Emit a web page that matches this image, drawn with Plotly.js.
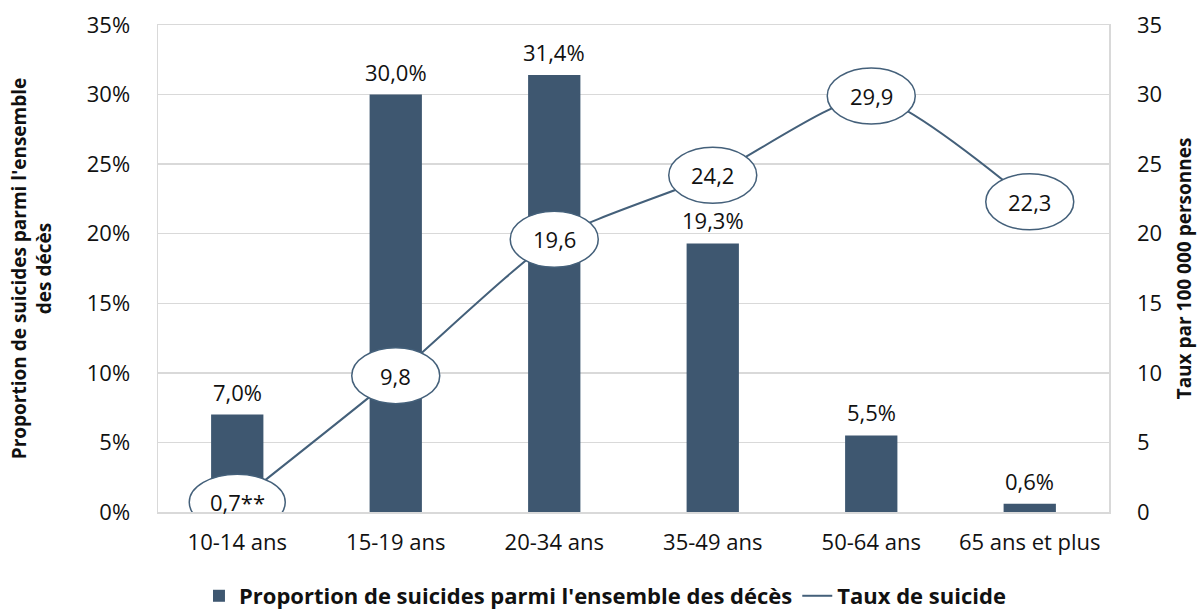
<!DOCTYPE html>
<html>
<head>
<meta charset="utf-8">
<script src="https://cdn.plot.ly/plotly-3.0.1.min.js"></script>
<style>
  html, body { margin: 0; padding: 0; background: #fff; }
  #chart { width: 1199px; height: 610px; }
</style>
</head>
<body>
<div id="chart"></div>
<script>
// age groups and values
var ageGroups = ['10-14 ans', '15-19 ans', '20-34 ans', '35-49 ans', '50-64 ans', '65 ans et plus'];
var proportion = [7.0, 30.0, 31.4, 19.3, 5.5, 0.6];     // % of all deaths
var taux = [0.7, 9.8, 19.6, 24.2, 29.9, 22.3];          // per 100 000
var tauxNote = ['**', '', '', '', '', ''];

var navy = '#3e5770';
var lineColor = '#44607a';

var barTrace = {
    x: ageGroups,
    y: proportion,
    type: 'bar',
    name: "Proportion de suicides parmi l'ensemble des décès",
    marker: {color: navy},
    width: 0.33,
    hoverinfo: 'none'
};

var lineTrace = {
    x: ageGroups,
    y: taux,
    type: 'scatter',
    mode: 'lines',
    name: 'Taux de suicide',
    yaxis: 'y2',
    line: {color: lineColor, width: 2, shape: 'spline', smoothing: 0.6},
    hoverinfo: 'none'
};

var fmt = function (v) { return v.toFixed(1).replace('.', ','); };

var shapes = [];
var annotations = [];

// bar value labels, a bit above each bar
for (var j = 0; j < ageGroups.length; j++) {
    annotations.push({
        xref: 'x', yref: 'y',
        x: ageGroups[j], y: proportion[j],
        yanchor: 'bottom',
        yshift: 6,
        text: fmt(proportion[j]) + '%',
        showarrow: false,
        font: {size: 22, color: '#111'}
    });
}

// white ellipses with the rate value, anchored on each data point
for (var i = 0; i < ageGroups.length; i++) {
    var w = tauxNote[i] ? 96 : 88;
    shapes.push({
        type: 'circle',
        xref: 'x', yref: 'y2',
        xsizemode: 'pixel', ysizemode: 'pixel',
        xanchor: ageGroups[i], yanchor: taux[i],
        x0: -w / 2, x1: w / 2, y0: -28, y1: 28,
        fillcolor: '#fff',
        line: {color: lineColor, width: 1.5},
        layer: 'above'
    });
    annotations.push({
        xref: 'x', yref: 'y2',
        x: ageGroups[i], y: taux[i],
        text: fmt(taux[i]) + tauxNote[i],
        showarrow: false,
        font: {size: 22, color: '#111'}
    });
}

var layout = {
    width: 1199,
    height: 610,
    margin: {l: 158, r: 90, t: 25, b: 98},
    paper_bgcolor: '#fff',
    plot_bgcolor: '#fff',
    font: {family: 'Open Sans, Noto Sans, sans-serif', size: 22, color: '#111'},
    showlegend: true,
    legend: {
        orientation: 'h',
        xref: 'paper',
        x: 0.47, xanchor: 'center',
        yref: 'container',
        y: 0.023, yanchor: 'middle',
        font: {size: 22, weight: 'bold', color: '#111'},
        traceorder: 'normal'
    },
    xaxis: {
        type: 'category',
        showgrid: false,
        showline: true,
        mirror: true,
        linecolor: '#d9d9d9',
        linewidth: 1.5,
        ticks: '',
        tickfont: {size: 22},
        ticklabelstandoff: 10,
        automargin: false,
        fixedrange: true
    },
    yaxis: {
        range: [0, 35],
        dtick: 5,
        ticksuffix: '%',
        showgrid: true,
        gridcolor: '#d9d9d9',
        gridwidth: 1.5,
        showline: true,
        linecolor: '#d9d9d9',
        linewidth: 1.5,
        zeroline: false,
        ticks: '',
        ticklabelstandoff: 22,
        automargin: false,
        title: {
            text: "Proportion de suicides parmi l'ensemble<br>des décès",
            font: {size: 19, weight: 'bold'},
            standoff: 30
        }
    },
    yaxis2: {
        overlaying: 'y',
        side: 'right',
        range: [0, 35],
        dtick: 5,
        showgrid: false,
        zeroline: false,
        showline: true,
        linecolor: '#d9d9d9',
        linewidth: 1.5,
        ticks: '',
        ticklabelstandoff: 22,
        automargin: false,
        title: {
            text: 'Taux par 100 000 personnes',
            font: {size: 19, weight: 'bold'},
            standoff: 16
        }
    },
    shapes: shapes,
    annotations: annotations
};

Plotly.newPlot('chart', [barTrace, lineTrace], layout, {displayModeBar: false, staticPlot: true});
</script>
</body>
</html>
